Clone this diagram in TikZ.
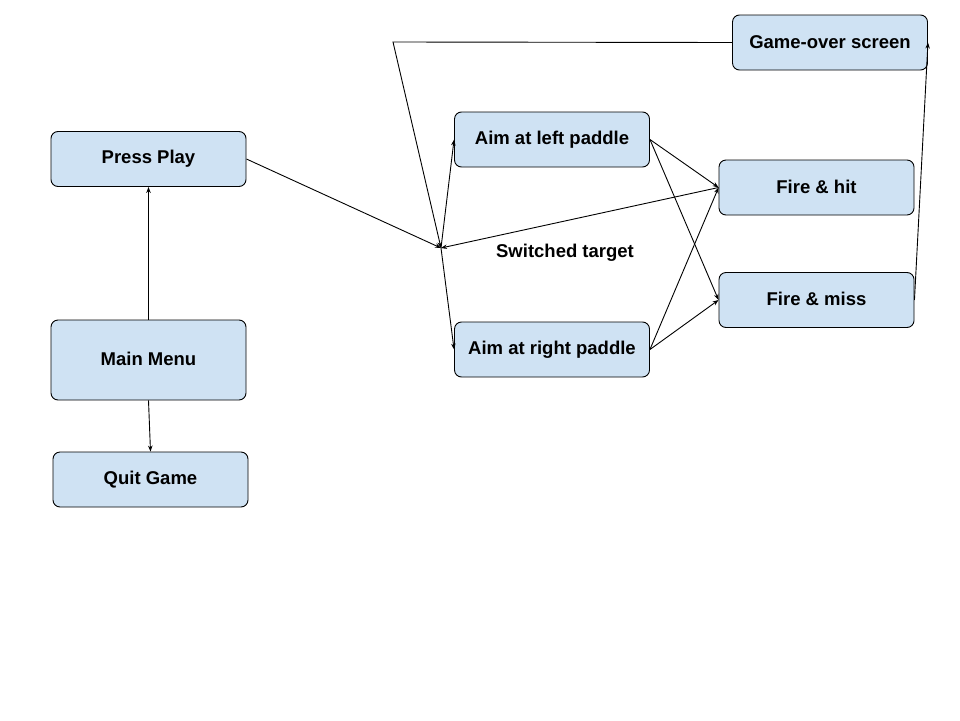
\documentclass[tikz,border=0pt]{standalone}
\usepackage{fontspec}
\setmainfont{Liberation Sans}
\usetikzlibrary{arrows.meta}
\definecolor{boxfill}{HTML}{CFE2F3}
\begin{document}
\begin{tikzpicture}[x=1pt,y=-1pt,
  box/.style={draw=black,line width=0.9pt,fill=boxfill,rounded corners=7pt,
    minimum width=195pt,minimum height=55pt,inner sep=0pt,
    font=\fontsize{18.5}{22}\selectfont\bfseries},
  lbl/.style={font=\fontsize{18.5}{22}\selectfont\bfseries,inner sep=0pt},
  conn/.style={line width=0.9pt,-{Stealth[length=6pt,width=4.5pt]}}]
\useasboundingbox (0,0) rectangle (960,720);
\node[box] (go) at (830,42.5) {\raisebox{1.5pt}{Game-over screen}};
\node[box] (al) at (552,139.5) {\raisebox{1.5pt}{Aim at left paddle}};
\node[box] (pp) at (148.5,159) {\raisebox{1.5pt}{Press Play}};
\node[box] (fh) at (816.5,187.5) {\raisebox{1.5pt}{Fire \& hit}};
\node[box] (fm) at (816.5,300) {\raisebox{1.5pt}{Fire \& miss}};
\node[box,minimum height=80pt] (mm) at (148.5,360) {\raisebox{1.5pt}{Main Menu}};
\node[box] (ar) at (552,349.5) {\raisebox{1.5pt}{Aim at right paddle}};
\node[box] (qg) at (150.5,479.5) {\raisebox{1.5pt}{Quit Game}};
\node[lbl] (st) at (565,253) {Switched target};
\coordinate (J) at (441,248);
\coordinate (c) at (393,42);
\draw[conn] (pp.east) -- (J);
\draw[conn] (go.west) -- (c) -- (J);
\draw[conn] (fh.west) -- (J);
\draw[conn] (J) -- (al.west);
\draw[conn] (J) -- (ar.west);
\draw[conn] (al.east) -- (fh.west);
\draw[conn] (al.east) -- (fm.west);
\draw[conn] (ar.east) -- (fh.west);
\draw[conn] (ar.east) -- (fm.west);
\draw[conn] (fm.east) -- (go.east);
\draw[conn] (mm.north) -- (pp.south);
\draw[conn] (mm.south) -- (qg.north);
\end{tikzpicture}
\end{document}
